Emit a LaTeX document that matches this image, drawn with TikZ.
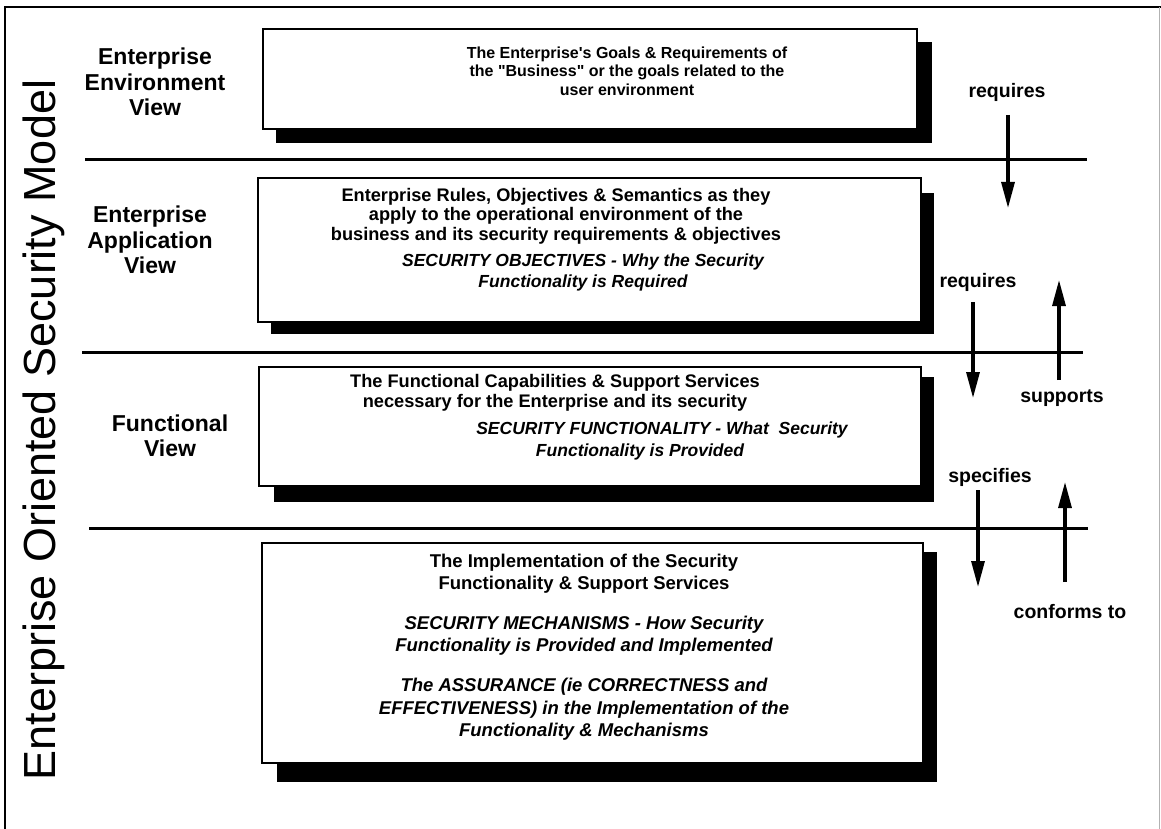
\documentclass[tikz,border=0pt]{standalone}
\usepackage{fontspec}
\setmainfont{Liberation Sans}[Ligatures=TeXOff]
\usetikzlibrary{arrows.meta}
\begin{document}
\begin{tikzpicture}[x=1pt,y=-1pt,
  framerule/.style={line width=2.8pt},
  divider/.style={line width=3pt},
  viewbox/.style={draw, line width=2.6pt, fill=white},
  dropshadow/.style={fill=black},
  flow/.style={line width=3.2pt, -{Triangle[length=26pt,width=13pt]}},
  viewname/.style={align=center, inner sep=0pt, font=\bfseries\fontsize{23}{25.5}\selectfont},
  relation/.style={inner sep=0pt, font=\bfseries\fontsize{19.5}{22}\selectfont},
  smalltext/.style={align=center, inner sep=0pt, font=\bfseries\fontsize{16}{18.5}\selectfont},
  midtext/.style={align=center, inner sep=0pt, font=\bfseries\fontsize{18.2}{19.5}\selectfont},
  midital/.style={align=center, inner sep=0pt, font=\bfseries\itshape\fontsize{17.5}{21}\selectfont},
  bigtext/.style={align=center, inner sep=0pt, font=\bfseries\fontsize{18.5}{22.5}\selectfont},
  bigital/.style={align=center, inner sep=0pt, font=\bfseries\itshape\fontsize{18.5}{22.5}\selectfont}
]
\useasboundingbox (0,0) rectangle (1161,829);

% outer frame
\draw[framerule] (5,829) -- (5,7) -- (1161,7);
\draw[line width=1pt, gray!60] (1159.5,7) -- (1159.5,829);

% title along the left edge
\node[rotate=90, anchor=base, inner sep=0pt, font=\fontsize{45}{45}\selectfont] (title) at (55,430) {Enterprise Oriented Security Model};

% layer dividers
\draw[divider] (85,160) -- (1087,160);
\draw[divider] (82,352) -- (1083,352);
\draw[divider] (89,528) -- (1088,528);

% boxes with drop shadows
\fill[dropshadow] (276,42) rectangle (932,143);
\draw[viewbox] (263,29) rectangle (917,129);
\fill[dropshadow] (271,193) rectangle (934,334);
\draw[viewbox] (258,178) rectangle (921,322);
\fill[dropshadow] (274,377) rectangle (934,502);
\draw[viewbox] (259,367) rectangle (921,486);
\fill[dropshadow] (277,552) rectangle (937,782);
\draw[viewbox] (262,543) rectangle (923,763);

% view names
\node[viewname] (envview) at (155,82) {Enterprise\\Environment\\View};
\node[viewname] (appview) at (150,240) {Enterprise\\Application\\View};
\node[viewname] (funcview) at (170,436) {Functional\\View};

% box contents
\node[smalltext] (envtext) at (627,71) {The Enterprise's Goals \& Requirements of\\the "Business" or the goals related to the\\user environment};
\node[midtext] (apptext) at (556,216) {Enterprise Rules, Objectives \& Semantics as they\\apply to the operational environment of the\\business and its security requirements \& objectives};
\node[midital] (appobj) at (583,272) {SECURITY OBJECTIVES - Why the Security\\Functionality is Required};
\node[midtext] (functext) at (555,393) {The Functional Capabilities \& Support Services\\necessary for the Enterprise and its security};
\node[midital] (funcsec) at (662,430) {SECURITY FUNCTIONALITY - What~ Security};
\node[midital] (funcprov) at (640,452) {Functionality is Provided};
\node[bigtext] (impltext) at (584,573.5) {The Implementation of the Security\\Functionality \& Support Services};
\node[bigital] (implmech) at (584,635.5) {SECURITY MECHANISMS - How Security\\Functionality is Provided and Implemented};
\node[bigital] (implassur) at (584,709.5) {The ASSURANCE (ie CORRECTNESS and\\EFFECTIVENESS) in the Implementation of the\\Functionality \& Mechanisms};

% relations between layers
\node[relation] (req1) at (1007,92) {requires};
\node[relation] (req2) at (978,282) {requires};
\node[relation] (supp) at (1062,398) {supports};
\node[relation] (spec) at (990,477) {specifies};
\node[relation] (conf) at (1070,612) {conforms to};

\coordinate (r1a) at (1008,115);
\coordinate (r1b) at (1008,208);
\coordinate (r2a) at (973,302);
\coordinate (r2b) at (973,398);
\coordinate (s1a) at (1059,380);
\coordinate (s1b) at (1059,280);
\coordinate (p1a) at (978,490);
\coordinate (p1b) at (978,587);
\coordinate (c1a) at (1065,582);
\coordinate (c1b) at (1065,482);
\draw[flow] (r1a) -- (r1b);
\draw[flow] (r2a) -- (r2b);
\draw[flow] (s1a) -- (s1b);
\draw[flow] (p1a) -- (p1b);
\draw[flow] (c1a) -- (c1b);
\end{tikzpicture}
\end{document}
